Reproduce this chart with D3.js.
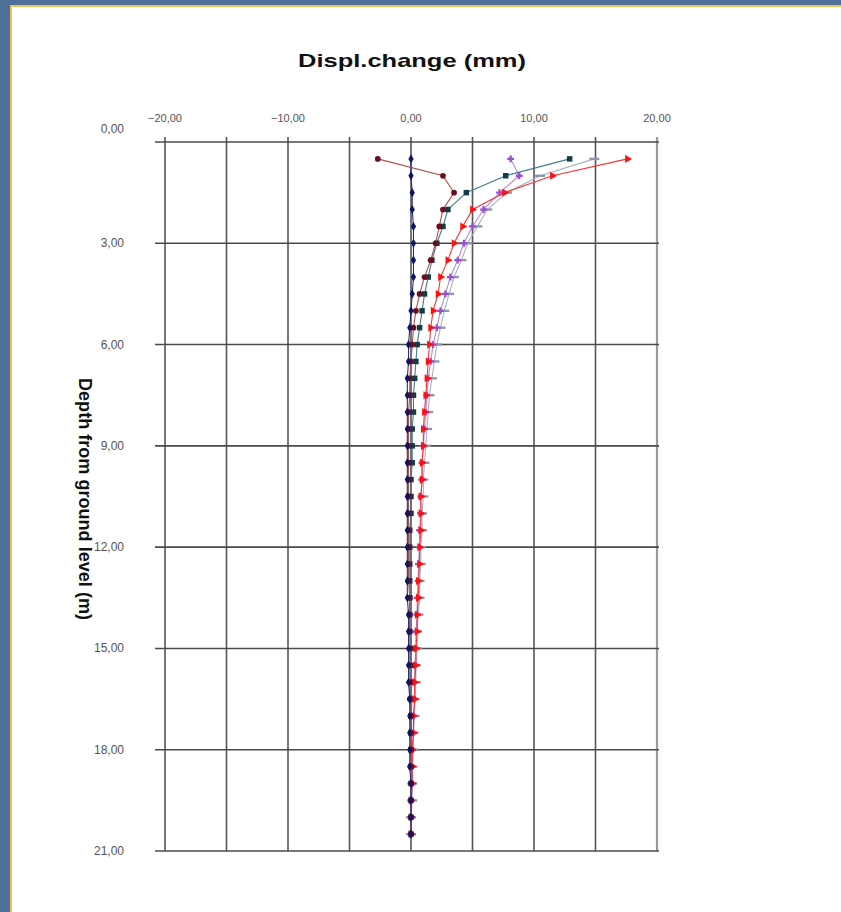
<!DOCTYPE html>
<html>
<head>
<meta charset="utf-8">
<script src="https://cdn.jsdelivr.net/npm/d3@7"></script>
<style>
  html, body { margin: 0; padding: 0; }
  body { width: 841px; height: 912px; overflow: hidden; background: #4f7099; }
  #chart { display: block; }
</style>
</head>
<body>
<div id="chart"></div>
<script>
// depth of each reading (m)
const depths = [0.5, 1.0, 1.5, 2.0, 2.5, 3.0, 3.5, 4.0, 4.5, 5.0,
  5.5, 6.0, 6.5, 7.0, 7.5, 8.0, 8.5, 9.0, 9.5, 10.0,
  10.5, 11.0, 11.5, 12.0, 12.5, 13.0, 13.5, 14.0, 14.5, 15.0,
  15.5, 16.0, 16.5, 17.0, 17.5, 18.0, 18.5, 19.0, 19.5, 20.0, 20.5];

// displacement change per reading (mm)
const navySeries = [0.0, 0.0, 0.1, 0.1, 0.2, 0.2, 0.2, 0.2, 0.1, 0.0,
  -0.1, -0.2, -0.2, -0.3, -0.3, -0.3, -0.3, -0.3, -0.3, -0.3,
  -0.3, -0.3, -0.3, -0.3, -0.3, -0.3, -0.3, -0.2, -0.2, -0.2,
  -0.2, -0.2, -0.1, -0.1, -0.1, -0.1, -0.1, 0.0, 0.0, 0.0, 0.0];
const maroonSeries = [-2.7, 2.6, 3.5, 2.6, 2.3, 2.0, 1.6, 1.1, 0.7, 0.4,
  0.2, 0.1, 0.0, -0.1, -0.1, -0.2, -0.2, -0.2, -0.2, -0.2,
  -0.2, -0.2, -0.2, -0.2, -0.2, -0.2, -0.1, -0.1, -0.1, -0.1,
  -0.1, -0.1, -0.1, 0.0, 0.0, 0.0, 0.0, 0.0, 0.0, 0.0, 0.0];
const tealSeries = [12.9, 7.7, 4.5, 3.0, 2.6, 2.1, 1.7, 1.4, 1.1, 0.9,
  0.7, 0.5, 0.4, 0.3, 0.2, 0.2, 0.1, 0.1, 0.1, 0.0,
  0.0, 0.0, -0.1, -0.1, -0.1, -0.1, -0.1, -0.1, -0.1, 0.0,
  0.0, 0.0, 0.0, 0.0, 0.0, 0.0, 0.0, 0.0, 0.0, 0.0, 0.0];
const purpleSeries = [8.1, 8.8, 7.2, 5.9, 5.0, 4.3, 3.8, 3.2, 2.8, 2.4,
  2.1, 1.8, 1.6, 1.4, 1.3, 1.2, 1.1, 1.0, 0.9, 0.9,
  0.8, 0.8, 0.7, 0.7, 0.6, 0.6, 0.5, 0.5, 0.4, 0.4,
  0.3, 0.3, 0.3, 0.2, 0.2, 0.1, 0.1, 0.1, 0.0, 0.0, 0.0];
const graySeries = [14.9, 10.5, 7.8, 6.2, 5.4, 4.6, 4.1, 3.5, 3.1, 2.7,
  2.4, 2.1, 1.9, 1.7, 1.5, 1.4, 1.3, 1.2, 1.1, 1.0,
  1.0, 0.9, 0.9, 0.8, 0.8, 0.7, 0.7, 0.6, 0.5, 0.5,
  0.4, 0.4, 0.3, 0.3, 0.2, 0.2, 0.1, 0.1, 0.1, 0.0, 0.0];
const redSeries = [17.6, 11.5, 7.6, 5.0, 4.2, 3.5, 3.0, 2.4, 2.2, 1.8,
  1.6, 1.5, 1.4, 1.3, 1.2, 1.1, 1.0, 1.0, 0.9, 0.9,
  0.8, 0.8, 0.8, 0.7, 0.7, 0.6, 0.6, 0.5, 0.5, 0.4,
  0.4, 0.3, 0.3, 0.2, 0.2, 0.1, 0.1, 0.1, 0.0, 0.0, 0.0];

const xTickValues = [-20, -10, 0, 10, 20];
const xGridValues = [-20, -15, -10, -5, 0, 5, 10, 15, 20];
const yTickValues = [0, 3, 6, 9, 12, 15, 18, 21];

// draw order: back to front
const series = [
    { name: "gray",   values: graySeries,   line: "#a7b0c4", marker: "dash",     fill: "#8d97ad" },
    { name: "purple", values: purpleSeries, line: "#b58ad6", marker: "cross",    fill: "#9b4fd0" },
    { name: "teal",   values: tealSeries,   line: "#3f7d8c", marker: "square",   fill: "#133c4a" },
    { name: "red",    values: redSeries,    line: "#ff3030", marker: "triangle", fill: "#ff1010" },
    { name: "maroon", values: maroonSeries, line: "#b0504a", marker: "circle",   fill: "#6b0f1e" },
    { name: "navy",   values: navySeries,   line: "#2a2f8a", marker: "diamond",  fill: "#101466" }
];

const W = 841, H = 912;
const fmt = v => d3.format(".2f")(v).replace(".", ",");
const font = "Liberation Sans, Arial, sans-serif";

const svg = d3.select("#chart").append("svg")
    .attr("width", W)
    .attr("height", H);

// slide background: white panel with a thin gold edge
svg.append("rect").attr("x", 0).attr("y", 0).attr("width", W).attr("height", H).attr("fill", "#4f7099");
svg.append("rect").attr("x", 10).attr("y", 5).attr("width", W - 10).attr("height", H - 5).attr("fill", "#f2c258");
svg.append("rect").attr("x", 12).attr("y", 7).attr("width", W - 12).attr("height", H - 7).attr("fill", "#ffffff");

const plot = { left: 165, right: 657, top: 142, bottom: 851 };

const x = d3.scaleLinear().domain([-20, 20]).range([plot.left, plot.right]);
const y = d3.scaleLinear().domain([0, 21]).range([plot.top, plot.bottom]);

const g = svg.append("g");

// grid
g.selectAll(".vgrid")
    .data(xGridValues)
    .enter().append("line")
    .attr("class", "vgrid")
    .attr("x1", d => x(d)).attr("x2", d => x(d))
    .attr("y1", plot.top - 5).attr("y2", plot.bottom)
    .attr("stroke", d => d === 20 ? "#9a9a9a" : "#555")
    .attr("stroke-width", d => d === 20 ? 2.2 : 1.6);

g.selectAll(".hgrid")
    .data(yTickValues)
    .enter().append("line")
    .attr("class", "hgrid")
    .attr("x1", plot.left - 10).attr("x2", plot.right + 2)
    .attr("y1", d => y(d)).attr("y2", d => y(d))
    .attr("stroke", "#4a4a4a")
    .attr("stroke-width", 1.6);

// top axis labels
g.selectAll(".xlab")
    .data(xTickValues)
    .enter().append("text")
    .attr("class", "xlab")
    .attr("x", d => x(d))
    .attr("y", 122)
    .attr("text-anchor", "middle")
    .attr("font-family", font)
    .attr("font-size", 11)
    .attr("fill", "#555")
    .text(fmt);

// left axis labels (top one sits a little above its line)
g.selectAll(".ylab")
    .data(yTickValues)
    .enter().append("text")
    .attr("class", "ylab")
    .attr("x", 124)
    .attr("y", d => y(d) + (d === 0 ? -9 : 4))
    .attr("text-anchor", "end")
    .attr("font-family", font)
    .attr("font-size", 12)
    .attr("fill", "#555")
    .text(fmt);

// titles
svg.append("text")
    .attr("x", 412)
    .attr("y", 67)
    .attr("text-anchor", "middle")
    .attr("font-family", font)
    .attr("font-weight", "bold")
    .attr("font-size", 19)
    .attr("textLength", 228)
    .attr("lengthAdjust", "spacingAndGlyphs")
    .attr("fill", "#111")
    .text("Displ.change (mm)");

svg.append("text")
    .attr("transform", "translate(79,499) rotate(90)")
    .attr("text-anchor", "middle")
    .attr("font-family", font)
    .attr("font-weight", "bold")
    .attr("font-size", 18)
    .attr("textLength", 242)
    .attr("lengthAdjust", "spacingAndGlyphs")
    .attr("fill", "#111")
    .text("Depth from ground level (m)");

// series
const line = d3.line()
    .x(d => x(d.v))
    .y(d => y(d.d));

const markerPath = {
    square: d3.symbol().type(d3.symbolSquare).size(30)(),
    triangle: d3.symbol().type(d3.symbolTriangle).size(28)(),
    circle: d3.symbol().type(d3.symbolCircle).size(26)(),
    diamond: d3.symbol().type(d3.symbolDiamond).size(24)(),
    cross: d3.symbol().type(d3.symbolCross).size(26)(),
    dash: "M-5,-1.2H5V1.2H-5Z"
};

series.forEach(s => {
    const pts = depths.map((d, i) => ({ d: d, v: s.values[i] }));
    const sg = g.append("g").attr("class", "series-" + s.name);

    sg.append("path")
        .datum(pts)
        .attr("d", line)
        .attr("fill", "none")
        .attr("stroke", s.line)
        .attr("stroke-width", 1.1);

    sg.selectAll(".pt")
        .data(pts)
        .enter().append("path")
        .attr("class", "pt")
        .attr("transform", d => `translate(${x(d.v)},${y(d.d)})` + (s.marker === "triangle" ? " rotate(90)" : ""))
        .attr("d", markerPath[s.marker])
        .attr("fill", s.fill);
});
</script>
</body>
</html>
